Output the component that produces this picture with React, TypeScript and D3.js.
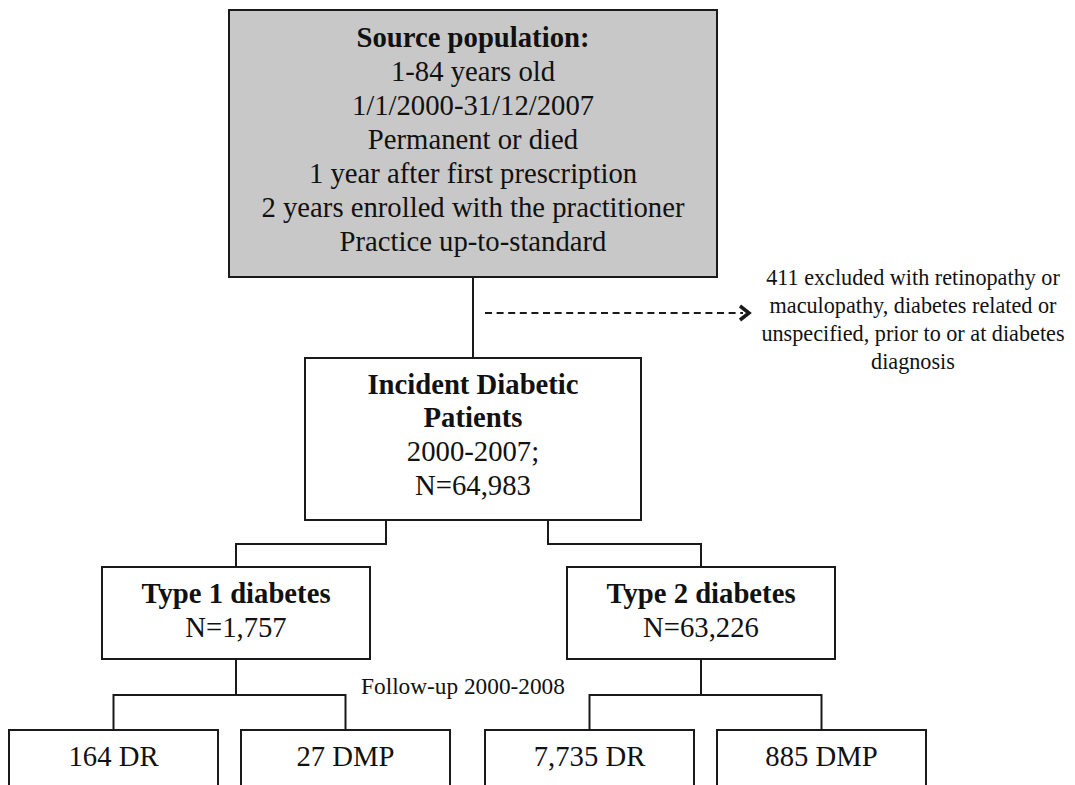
import React, { useEffect, useRef } from "react";
import * as d3 from "d3";

// chart texts
const sourceTitle = "Source population:";
const sourceCriteria = [
  "1-84 years old",
  "1/1/2000-31/12/2007",
  "Permanent or died",
  "1 year after first prescription",
  "2 years enrolled with the practitioner",
  "Practice up-to-standard",
];
const excludedLines = [
  "411 excluded with retinopathy or",
  "maculopathy, diabetes related or",
  "unspecified, prior to or at diabetes",
  "diagnosis",
];
const incidentTitle = ["Incident Diabetic", "Patients"];
const incidentLines = ["2000-2007;", "N=64,983"];
const diabetesTypes = ["Type 1 diabetes", "Type 2 diabetes"];
const diabetesCounts = ["N=1,757", "N=63,226"];
const outcomeLabels = [
  ["164 DR", "27 DMP"],
  ["7,735 DR", "885 DMP"],
];
const followUpLabel = "Follow-up 2000-2008";

const FONT = '"Liberation Serif", Tinos, "Times New Roman", Times, serif';
const INK = "#1a1a1a";
const BIG = 28.7;

const App = () => {
  const ref = useRef<SVGSVGElement>(null);

  useEffect(() => {
    const svg = d3.select(ref.current);
    svg.selectAll("*").remove();
    const line = d3.line();

    const box = (x, y, w, h, fill = "#fff") =>
      svg
        .append("rect")
        .attr("x", x)
        .attr("y", y)
        .attr("width", w)
        .attr("height", h)
        .attr("fill", fill)
        .attr("stroke", INK)
        .attr("stroke-width", 2);

    const text = (t, x, y, size, bold = false) =>
      svg
        .append("text")
        .attr("x", x)
        .attr("y", y)
        .attr("text-anchor", "middle")
        .style("font-family", FONT)
        .style("font-size", size + "px")
        .style("font-weight", bold ? "bold" : "normal")
        .attr("fill", "#111")
        .text(t);

    const path = (pts, dash = null, w = 2) =>
      svg
        .append("path")
        .attr("d", line(pts))
        .attr("fill", "none")
        .attr("stroke", INK)
        .attr("stroke-width", w)
        .attr("stroke-dasharray", dash);

    // source population
    const top = { x: 229, y: 10, w: 488, h: 267 };
    const cx = top.x + top.w / 2;
    box(top.x, top.y, top.w, top.h, "#c8c8c8");
    text(sourceTitle, cx, 47, BIG, true);
    sourceCriteria.forEach((t, i) => text(t, cx, 81 + i * 34, BIG));

    // incident patients
    const inc = { x: 305, y: 358, w: 336, h: 162 };
    path([[cx, top.y + top.h], [cx, inc.y]]);
    box(inc.x, inc.y, inc.w, inc.h);
    incidentTitle.forEach((t, i) => text(t, cx, 394 + i * 33, BIG, true));
    incidentLines.forEach((t, i) => text(t, cx, 461 + i * 34, BIG));

    // exclusion arrow
    path([[485, 313], [743, 313]], "7,4.6");
    path([[740, 306], [749, 313], [740, 320]], null, 3.5);
    excludedLines.forEach((t, i) => text(t, 913, 285 + i * 28, 22.2));

    // diabetes types
    const typeX = [102, 567];
    const typeW = 268;
    const typeY = 567;
    const typeH = 92;
    const branchX = [386, 548];
    const branchY = 544;
    diabetesTypes.forEach((t, i) => {
      const c = typeX[i] + typeW / 2;
      path([[branchX[i], inc.y + inc.h], [branchX[i], branchY], [c, branchY], [c, typeY]]);
      box(typeX[i], typeY, typeW, typeH);
      text(t, c, 603, BIG, true);
      text(diabetesCounts[i], c, 637, BIG);
    });

    // outcomes
    const outX = [
      [9, 241],
      [485, 717],
    ];
    const outW = 209;
    const outY = 730;
    const splitY = 695;
    outcomeLabels.forEach((pair, i) => {
      const c = typeX[i] + typeW / 2;
      const c0 = outX[i][0] + outW / 2;
      const c1 = outX[i][1] + outW / 2;
      path([[c, typeY + typeH], [c, splitY]]);
      path([[c0, outY], [c0, splitY], [c1, splitY], [c1, outY]]);
      pair.forEach((t, j) => {
        box(outX[i][j], outY, outW, 90);
        text(t, outX[i][j] + outW / 2, 766, BIG);
      });
    });

    text(followUpLabel, 463, 694, 23.3);
  }, []);

  return (
    <svg
      ref={ref}
      width={1075}
      height={785}
      style={{ position: "absolute", left: 0, top: 0, background: "#fff" }}
    />
  );
};

export default App;
